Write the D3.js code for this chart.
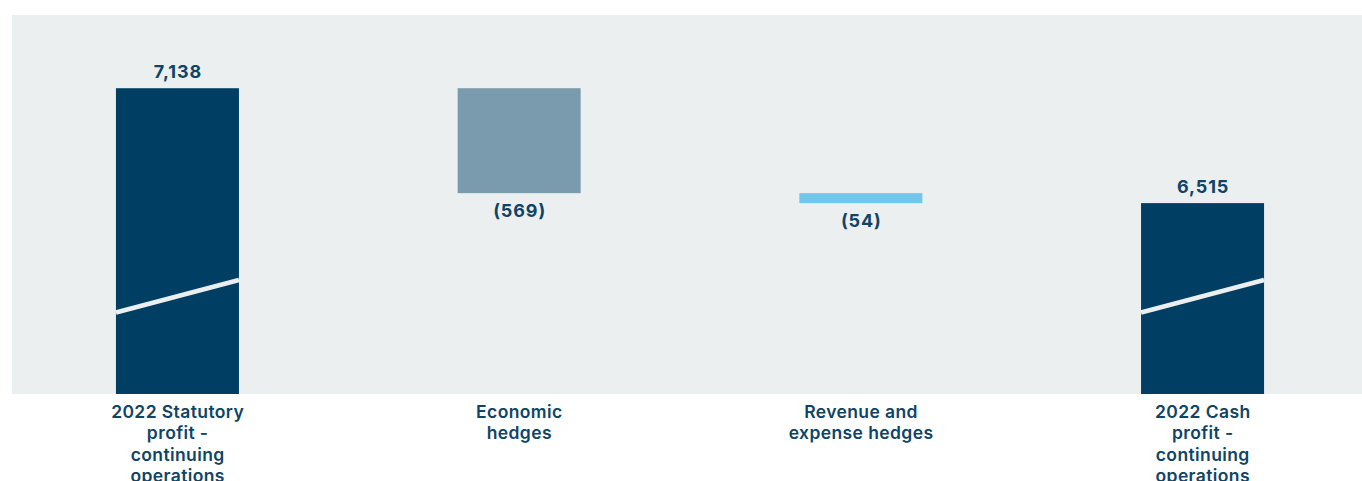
<!DOCTYPE html>
<html>
<head>
<meta charset="utf-8">
<script src="https://cdn.jsdelivr.net/npm/d3@7"></script>
<style>
  html, body { margin: 0; padding: 0; background: #ffffff; }
  svg { display: block; }
</style>
</head>
<body>
<div id="chart"></div>
<script>
// waterfall: statutory profit -> cash profit
const categories = ["stat", "econ", "rev", "cash"];
const labelLines = [
    ["2022 Statutory", "profit -", "continuing", "operations"],
    ["Economic", "hedges"],
    ["Revenue and", "expense hedges"],
    ["2022 Cash", "profit -", "continuing", "operations"]
];
const values = [7138, -569, -54, 6515];
const kinds = ["total", "delta", "delta", "total"];
const valueLabels = ["7,138", "(569)", "(54)", "6,515"];

const width = 1362, height = 481;
const plotTop = 15, plotBottom = 394, plotLeft = 12;
const textColor = "#0f4466";
const bgColor = "#eceff0";
const fills = { total: "#003f63", econ: "#7a9aae", rev: "#72c5eb" };

// build running start/end for each bar
let running = 0;
const bars = categories.map((c, i) => {
    let start, end;
    if (kinds[i] === "total") {
        start = null; end = values[i]; running = values[i];
    } else {
        start = running; end = running + values[i]; running = end;
    }
    return { key: c, i, start, end, kind: kinds[i], label: valueLabels[i], lines: labelLines[i] };
});

const svg = d3.select("#chart").append("svg")
    .attr("width", width)
    .attr("height", height);

svg.append("rect")
    .attr("x", plotLeft)
    .attr("y", plotTop)
    .attr("width", width - plotLeft)
    .attr("height", plotBottom - plotTop)
    .attr("fill", bgColor);

const x = d3.scaleBand()
    .domain(categories)
    .range([6.6, 1373.4])
    .paddingInner(0.64)
    .paddingOuter(0.32);

// axis is broken, so the baseline sits well above zero
const y = d3.scaleLinear()
    .domain([5480, 7535])
    .range([plotBottom, plotTop]);

const g = svg.append("g");

g.selectAll(".bar")
    .data(bars)
    .join("rect")
    .attr("class", "bar")
    .attr("x", d => x(d.key))
    .attr("width", x.bandwidth())
    .attr("y", d => d.kind === "total" ? y(d.end) : y(Math.max(d.start, d.end)))
    .attr("height", d => d.kind === "total"
        ? plotBottom - y(d.end)
        : Math.abs(y(d.end) - y(d.start)))
    .attr("fill", d => d.kind === "total" ? fills.total : (d.key === "econ" ? fills.econ : fills.rev));

// axis break marks on the totals
g.selectAll(".break")
    .data(bars.filter(d => d.kind === "total"))
    .join("line")
    .attr("class", "break")
    .attr("x1", d => x(d.key))
    .attr("x2", d => x(d.key) + x.bandwidth())
    .attr("y1", plotBottom - 81.5)
    .attr("y2", plotBottom - 114)
    .attr("stroke", bgColor)
    .attr("stroke-width", 4.6);

const font = "Inter, 'Open Sans', sans-serif";

g.selectAll(".val")
    .data(bars)
    .join("text")
    .attr("class", "val")
    .attr("x", d => x(d.key) + x.bandwidth() / 2 + 0.5)
    .attr("y", d => d.kind === "total" ? y(d.end) - 10.5 : y(d.end) + 24)
    .attr("text-anchor", "middle")
    .attr("font-family", font)
    .attr("font-weight", 700)
    .attr("font-size", 18)
    .attr("letter-spacing", 0.9)
    .attr("fill", textColor)
    .text(d => d.label);

const cat = g.selectAll(".cat")
    .data(bars)
    .join("text")
    .attr("class", "cat")
    .attr("text-anchor", "middle")
    .attr("font-family", font)
    .attr("font-weight", 600)
    .attr("font-size", 17.5)
    .attr("letter-spacing", 0.4)
    .attr("fill", textColor);

cat.selectAll("tspan")
    .data(d => d.lines.map(l => ({ l, cx: x(d.key) + x.bandwidth() / 2 + 0.2 })))
    .join("tspan")
    .attr("x", d => d.cx)
    .attr("y", (d, i) => 418 + i * 21.3)
    .text(d => d.l);
</script>
</body>
</html>
